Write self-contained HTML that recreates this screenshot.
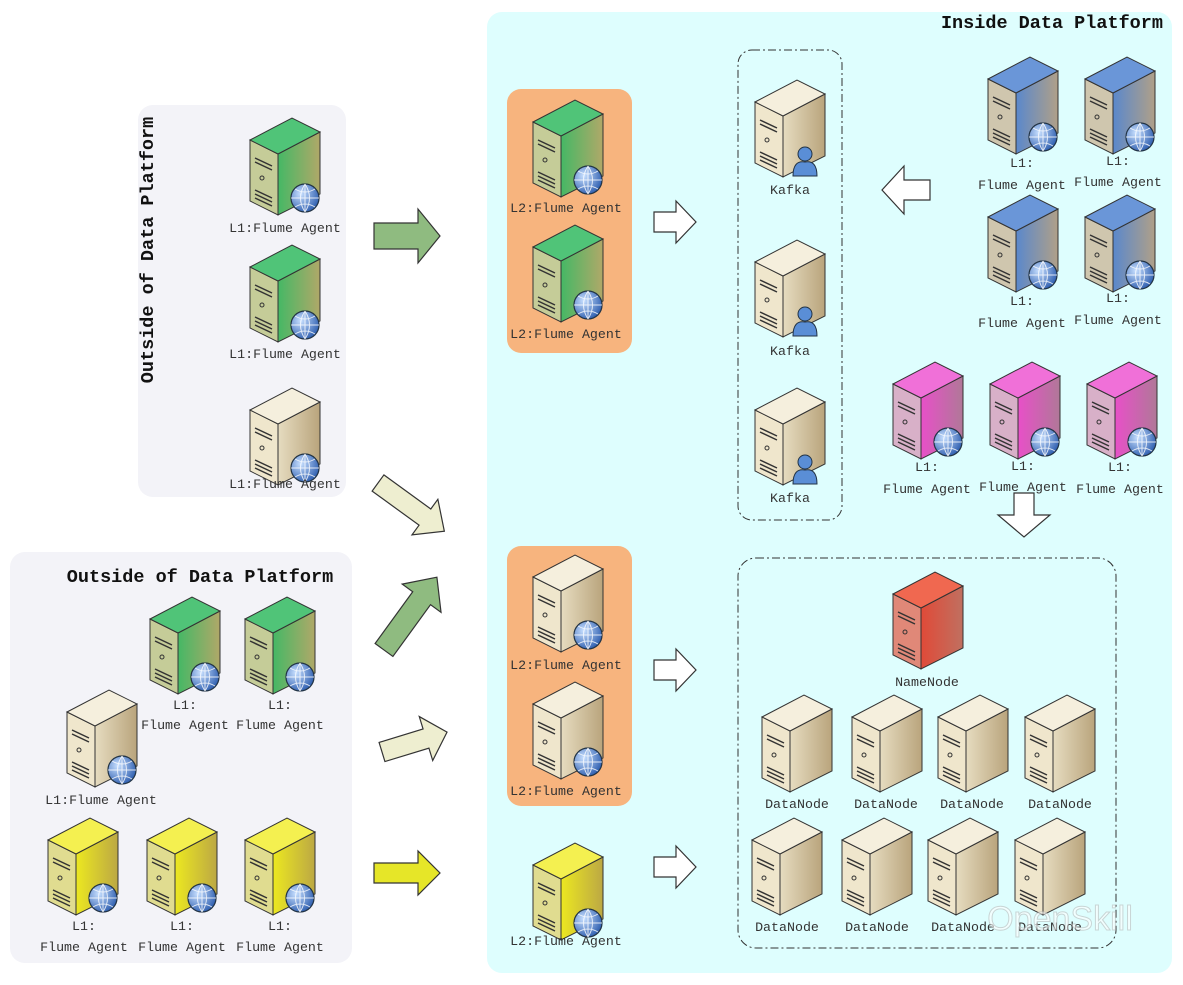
<!DOCTYPE html>
<html><head><meta charset="utf-8"><style>
html,body{margin:0;padding:0;background:#fff;}
svg{display:block;}
text{font-family:"Liberation Mono","Noto Sans CJK SC",monospace;font-size:13.3px;fill:#333;text-anchor:middle;}
.t{font-family:"Liberation Mono",monospace;font-size:18.5px;fill:#111;font-weight:bold;}
</style></head><body>
<svg width="1183" height="985" viewBox="0 0 1183 985" xmlns="http://www.w3.org/2000/svg">
<defs>
<linearGradient id="gB" x1="0" x2="1"><stop offset="0" stop-color="#e6dcc0"/><stop offset="1" stop-color="#b9a47c"/></linearGradient>
<linearGradient id="gG" x1="0" x2="1"><stop offset="0" stop-color="#45b865"/><stop offset="1" stop-color="#b0a868"/></linearGradient>
<linearGradient id="gU" x1="0" x2="1"><stop offset="0" stop-color="#5a88cc"/><stop offset="1" stop-color="#b0a088"/></linearGradient>
<linearGradient id="gP" x1="0" x2="1"><stop offset="0" stop-color="#e850c8"/><stop offset="1" stop-color="#b07898"/></linearGradient>
<linearGradient id="gY" x1="0" x2="1"><stop offset="0" stop-color="#ece820"/><stop offset="1" stop-color="#bca844"/></linearGradient>
<linearGradient id="gR" x1="0" x2="1"><stop offset="0" stop-color="#e04a38"/><stop offset="1" stop-color="#c07060"/></linearGradient>
<radialGradient id="gl" cx="0.35" cy="0.35" r="0.7"><stop offset="0" stop-color="#c8e0ff"/><stop offset="1" stop-color="#2f5fb0"/></radialGradient>
<g id="det"><path d="M5 40 L22 48 M5 44 L22 52 M5 72 L22 80 M5 76 L22 84 M5 80 L22 88" stroke="#333" stroke-width="1.5"/><circle cx="12" cy="60" r="2" fill="none" stroke="#333"/></g>
<g id="glob"><circle cx="55" cy="80" r="14" fill="url(#gl)" stroke="#234" stroke-width="1.2"/><path d="M41 80 H69 M55 66 V94 M45 71 Q55 77 65 71 M45 89 Q55 83 65 89 M55 66 Q46 80 55 94 M55 66 Q64 80 55 94" stroke="#fff" stroke-width="1" fill="none" opacity=".8"/></g>
<g id="pers"><circle cx="50" cy="74" r="7" fill="#5a8ed6" stroke="#234"/><path d="M38 96 Q38 80 50 82 Q62 80 62 96 Z" fill="#5a8ed6" stroke="#234"/></g>
<g id="sB"><polygon points="0,22 28,36 28,97 0,83" fill="#efe6cc" stroke="#333"/><polygon points="28,36 70,14 70,76 28,97" fill="url(#gB)" stroke="#333"/><polygon points="0,22 42,0 70,14 28,36" fill="#f5efdd" stroke="#333"/><use href="#det"/></g>
<g id="sG"><polygon points="0,22 28,36 28,97 0,83" fill="#c5cc98" stroke="#333"/><polygon points="28,36 70,14 70,76 28,97" fill="url(#gG)" stroke="#333"/><polygon points="0,22 42,0 70,14 28,36" fill="#50c478" stroke="#333"/><use href="#det"/><use href="#glob"/></g>
<g id="sU"><polygon points="0,22 28,36 28,97 0,83" fill="#cfc6ae" stroke="#333"/><polygon points="28,36 70,14 70,76 28,97" fill="url(#gU)" stroke="#333"/><polygon points="0,22 42,0 70,14 28,36" fill="#6a96d8" stroke="#333"/><use href="#det"/><use href="#glob"/></g>
<g id="sP"><polygon points="0,22 28,36 28,97 0,83" fill="#d8b0c8" stroke="#333"/><polygon points="28,36 70,14 70,76 28,97" fill="url(#gP)" stroke="#333"/><polygon points="0,22 42,0 70,14 28,36" fill="#f070d8" stroke="#333"/><use href="#det"/><use href="#glob"/></g>
<g id="sY"><polygon points="0,22 28,36 28,97 0,83" fill="#e0dc90" stroke="#333"/><polygon points="28,36 70,14 70,76 28,97" fill="url(#gY)" stroke="#333"/><polygon points="0,22 42,0 70,14 28,36" fill="#f4f050" stroke="#333"/><use href="#det"/><use href="#glob"/></g>
<g id="sR"><polygon points="0,22 28,36 28,97 0,83" fill="#e08878" stroke="#333"/><polygon points="28,36 70,14 70,76 28,97" fill="url(#gR)" stroke="#333"/><polygon points="0,22 42,0 70,14 28,36" fill="#f06850" stroke="#333"/><use href="#det"/></g>
<g id="sBG"><use href="#sB"/><use href="#glob"/></g>
<g id="sK"><use href="#sB"/><use href="#pers"/></g>
</defs>

<rect x="138" y="105" width="208" height="392" rx="15" fill="#f3f3f8"/>
<rect x="10" y="552" width="342" height="411" rx="15" fill="#f3f3f8"/>
<rect x="487" y="12" width="685" height="961" rx="15" fill="#defefe"/>
<rect x="507" y="89" width="125" height="264" rx="14" fill="#f7b47e"/>
<rect x="507" y="546" width="125" height="260" rx="14" fill="#f7b47e"/>
<rect x="738" y="50" width="104" height="470" rx="14" fill="none" stroke="#333" stroke-dasharray="8,3,2,3"/>
<rect x="738" y="558" width="378" height="390" rx="18" fill="none" stroke="#333" stroke-dasharray="8,3,2,3"/>

<text class="t" x="0" y="0" transform="translate(153,250) rotate(-90)">Outside of Data Platform</text>
<text class="t" x="200" y="582">Outside of Data Platform</text>
<text class="t" x="1163" y="28" style="text-anchor:end">Inside Data Platform</text>

<use href="#sG" x="250" y="118"/><text x="285" y="232">L1:Flume Agent</text>
<use href="#sG" x="250" y="245"/><text x="285" y="358">L1:Flume Agent</text>
<use href="#sBG" x="250" y="388"/><text x="285" y="488">L1:Flume Agent</text>

<use href="#sG" x="150" y="597"/><text x="185" y="709">L1:</text><text x="185" y="729">Flume Agent</text>
<use href="#sG" x="245" y="597"/><text x="280" y="709">L1:</text><text x="280" y="729">Flume Agent</text>
<use href="#sBG" x="67" y="690"/><text x="101" y="804">L1:Flume Agent</text>
<use href="#sY" x="48" y="818"/><text x="84" y="930">L1:</text><text x="84" y="951">Flume Agent</text>
<use href="#sY" x="147" y="818"/><text x="182" y="930">L1:</text><text x="182" y="951">Flume Agent</text>
<use href="#sY" x="245" y="818"/><text x="280" y="930">L1:</text><text x="280" y="951">Flume Agent</text>

<use href="#sG" x="533" y="100"/><text x="566" y="212">L2:Flume Agent</text>
<use href="#sG" x="533" y="225"/><text x="566" y="338">L2:Flume Agent</text>
<use href="#sBG" x="533" y="555"/><text x="566" y="669">L2:Flume Agent</text>
<use href="#sBG" x="533" y="682"/><text x="566" y="795">L2:Flume Agent</text>
<use href="#sY" x="533" y="843"/><text x="566" y="945">L2:Flume Agent</text>

<use href="#sK" x="755" y="80"/><text x="790" y="194">Kafka</text>
<use href="#sK" x="755" y="240"/><text x="790" y="355">Kafka</text>
<use href="#sK" x="755" y="388"/><text x="790" y="502">Kafka</text>

<use href="#sU" x="988" y="57"/><text x="1022" y="167">L1:</text><text x="1022" y="189">Flume Agent</text>
<use href="#sU" x="1085" y="57"/><text x="1118" y="165">L1:</text><text x="1118" y="186">Flume Agent</text>
<use href="#sU" x="988" y="195"/><text x="1022" y="305">L1:</text><text x="1022" y="327">Flume Agent</text>
<use href="#sU" x="1085" y="195"/><text x="1118" y="302">L1:</text><text x="1118" y="324">Flume Agent</text>

<use href="#sP" x="893" y="362"/><text x="927" y="471">L1:</text><text x="927" y="493">Flume Agent</text>
<use href="#sP" x="990" y="362"/><text x="1023" y="470">L1:</text><text x="1023" y="491">Flume Agent</text>
<use href="#sP" x="1087" y="362"/><text x="1120" y="471">L1:</text><text x="1120" y="493">Flume Agent</text>

<use href="#sR" x="893" y="572"/><text x="927" y="686">NameNode</text>
<use href="#sB" x="762" y="695"/><text x="797" y="808">DataNode</text>
<use href="#sB" x="852" y="695"/><text x="886" y="808">DataNode</text>
<use href="#sB" x="938" y="695"/><text x="972" y="808">DataNode</text>
<use href="#sB" x="1025" y="695"/><text x="1060" y="808">DataNode</text>
<use href="#sB" x="752" y="818"/><text x="787" y="931">DataNode</text>
<use href="#sB" x="842" y="818"/><text x="877" y="931">DataNode</text>
<use href="#sB" x="928" y="818"/><text x="963" y="931">DataNode</text>
<use href="#sB" x="1015" y="818"/><text x="1050" y="931">DataNode</text>

<g stroke="#333" stroke-width="1.2">
<polygon transform="translate(374,236)" points="0,-13 44,-13 44,-27 66,0 44,27 44,13 0,13" fill="#8fbb80"/>
<polygon transform="translate(374,873)" points="0,-10 44,-10 44,-22 66,0 44,22 44,10 0,10" fill="#e6e628"/>
<polygon transform="translate(654,222)" points="0,-10 22,-10 22,-21 42,0 22,21 22,10 0,10" fill="#fff"/>
<polygon transform="translate(654,670)" points="0,-10 22,-10 22,-21 42,0 22,21 22,10 0,10" fill="#fff"/>
<polygon transform="translate(654,867)" points="0,-10 22,-10 22,-21 42,0 22,21 22,10 0,10" fill="#fff"/>
<polygon transform="translate(930,190) rotate(180)" points="0,-10 26,-10 26,-24 48,0 26,24 26,10 0,10" fill="#fff"/>
<polygon transform="translate(1024,493) rotate(90)" points="0,-10 22,-10 22,-26 44,0 22,26 22,10 0,10" fill="#fff"/>
<polygon transform="translate(378,483) rotate(36)" points="0,-10 58,-10 58,-22 82,0 58,22 58,10 0,10" fill="#eeeed0"/>
<polygon transform="translate(384,650) rotate(-54)" points="0,-11 64,-11 64,-24 90,0 64,24 64,11 0,11" fill="#8fbb80"/>
<polygon transform="translate(382,752) rotate(-17)" points="0,-10 46,-10 46,-23 68,0 46,23 46,10 0,10" fill="#eeeed0"/>
</g>
<text x="1060" y="930" style="font-family:'Liberation Sans',sans-serif;font-size:34px;fill:#fff;stroke:#bbb;stroke-width:1;opacity:.6">OpenSkill</text>
</svg>
</body></html>
